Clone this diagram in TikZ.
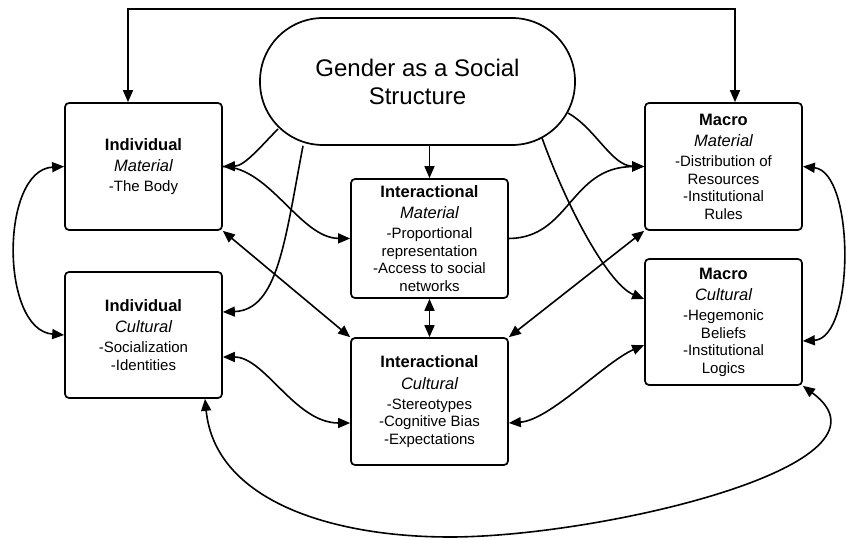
\documentclass[tikz,border=0pt]{standalone}
\usepackage{fontspec}
\setmainfont{Liberation Sans}
\usetikzlibrary{arrows.meta,calc}
\begin{document}
\begin{tikzpicture}[x=1pt,y=-1pt,
  box/.style={draw,line width=1.7pt,rounded corners=4pt,minimum width=157pt,align=center,inner sep=0pt,font=\fontsize{15}{17.5}\selectfont},
  conn/.style={line width=1.6pt,-{Triangle[length=12pt,width=10pt]}},
  dconn/.style={line width=1.6pt,{Triangle[length=12pt,width=10pt]}-{Triangle[length=12pt,width=10pt]}},
]
\newcommand{\tb}[1]{{\fontsize{16.5}{17.5}\selectfont\bfseries #1}}
\newcommand{\ti}[1]{{\fontsize{16.5}{17.5}\selectfont\itshape #1}}
\useasboundingbox (0,0) rectangle (846,540);
\fill[white] (0,0) rectangle (846,540);

\node[draw,line width=1.7pt,rounded corners=63pt,minimum width=315pt,minimum height=127pt,align=center,inner sep=0pt,font=\fontsize{24}{28}\selectfont] (G) at (417.5,81.5) {Gender as a Social\\Structure};

\node[box,minimum height=127pt] (IM) at (143.5,166.5) {\tb{Individual}\\[4pt]\ti{Material}\\[2.5pt]-The Body};
\node[box,minimum height=126pt] (IC) at (143.5,335) {\tb{Individual}\\[4pt]\ti{Cultural}\\[2.5pt]-Socialization\\-Identities};
\node[box,minimum height=119pt] (IntM) at (429.5,238.5) {\tb{Interactional}\\[4pt]\ti{Material}\\[2.5pt]-Proportional\\representation\\-Access to social\\networks};
\node[box,minimum height=127pt] (IntC) at (429.5,401.5) {\tb{Interactional}\\[4pt]\ti{Cultural}\\[2.5pt]-Stereotypes\\-Cognitive Bias\\-Expectations};
\node[box,minimum height=127pt] (MM) at (723.5,166.5) {\tb{Macro}\\[4pt]\ti{Material}\\[2.5pt]-Distribution of\\Resources\\-Institutional\\Rules};
\node[box,minimum height=126pt] (MC) at (723.5,322) {\tb{Macro}\\[4pt]\ti{Cultural}\\[2.5pt]-Hegemonic\\Beliefs\\-Institutional\\Logics};

% from the oval
\draw[conn] ($(G.center)+(-139.5,47.5)$) .. controls (262,145) and (245,166) .. (IM.east);
\draw[conn] ($(G.south)+(-114.5,0)$) .. controls (285,240) and (278,310) .. ($(IC.east)+(0,-23)$);
\draw[conn] (G.south -| IntM.north) -- (IntM.north);
\draw[conn] ($(G.center)+(150.5,31.5)$) .. controls (595,128) and (612,166) .. (MM.west);
\draw[conn] ($(G.center)+(124.5,56.5)$) .. controls (570,215) and (610,285) .. ($(MC.west)+(0,-23)$);

% between levels
\draw[conn] (IM.east) .. controls (270,167) and (300,238) .. (IntM.west);
\draw[dconn] (IM.south east) -- (IntC.north west);
\draw[dconn] (IntM.south) -- (IntC.north);
\draw[conn] (IntM.east) .. controls (570,238) and (570,167) .. (MM.west);
\draw[dconn] (IntC.north east) -- (MM.south west);
\draw[dconn] ($(IntC.east)+(0,21.5)$) .. controls (550,420) and (605,362) .. ($(MC.west)+(0,23)$);
\draw[dconn] ($(IC.east)+(0,22)$) .. controls (265,357) and (295,423) .. ($(IntC.west)+(0,21.5)$);
\draw[dconn] (IM.west) .. controls (0,170) and (0,330) .. (IC.west);
\draw[dconn] (MM.east) .. controls (855,172) and (855,338) .. ($(MC.east)+(0,19)$);
\draw[dconn] ($(IC.south)+(61.5,0)$) .. controls (215,500) and (330,537) .. (450,537) .. controls (600,537) and (910,465) .. (MC.south east);
\draw[dconn] ($(IM.north)+(-15.5,0)$) -- ++(0,-93) -| ($(MM.north)+(11.5,0)$);
\end{tikzpicture}
\end{document}
